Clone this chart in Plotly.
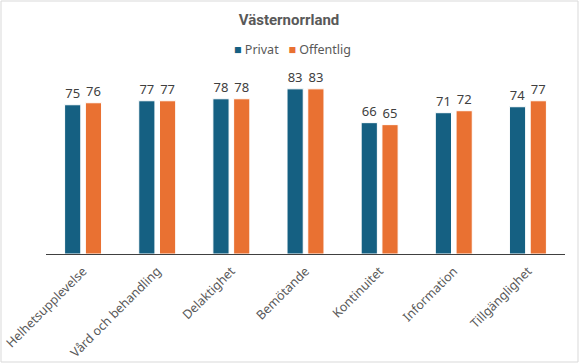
import plotly.graph_objects as go

categories = ["Helhetsupplevelse", "Vård och behandling", "Delaktighet", "Bemötande",
              "Kontinuitet", "Information", "Tillgänglighet"]
privat = [75, 77, 78, 83, 66, 71, 74]
offentlig = [76, 77, 78, 83, 65, 72, 77]
series_names = ["Privat", "Offentlig"]
colors = ["#156082", "#E97132"]

W, H = 580, 364
L, R, T, B = 46, 15, 55, 110
pw, ph = W - L - R, H - T - B

fig = go.Figure()
for name, vals, col in zip(series_names, [privat, offentlig], colors):
    fig.add_trace(go.Bar(
        x=categories, y=vals, name=name,
        marker=dict(color=col, line=dict(color="white", width=1)),
        text=[str(v) for v in vals], textposition="outside",
        textfont=dict(size=13, color="#404040", family="Noto Sans"),
        cliponaxis=False, showlegend=False,
    ))

legend_text = "&nbsp;&nbsp;&nbsp;".join(
    f'<span style="color:{c}">■</span> {n}' for n, c in zip(series_names, colors))

fig.update_layout(
    width=W, height=H,
    margin=dict(l=L, r=R, t=T, b=B, autoexpand=False),
    paper_bgcolor="white", plot_bgcolor="white",
    barmode="group", bargap=0.44, bargroupgap=0.22,
    font=dict(family="Noto Sans", color="#595959"),
    title=dict(text="<b>Västernorrland</b>", x=289 / W, xanchor="center",
               y=1 - 20 / H, yanchor="middle", yref="container", xref="container",
               font=dict(size=15, color="#595959", family="Roboto")),
    annotations=[dict(text=legend_text, xref="paper", yref="paper",
                      x=(292 - L) / pw, y=1 + (T - 49) / ph,
                      xanchor="center", yanchor="middle", showarrow=False,
                      font=dict(size=12.5, color="#595959", family="Noto Sans"))],
    xaxis=dict(tickangle=-45, tickfont=dict(size=12.5, color="#595959"),
               showline=True, linecolor="#404040", linewidth=1,
               ticks="", showgrid=False, automargin=False, ticklabelstandoff=4),
    yaxis=dict(range=[0, 100], visible=False, showgrid=False, automargin=False),
    shapes=[dict(type="rect", xref="paper", yref="paper",
                 x0=-(L - 1) / pw, x1=1 + (R - 2) / pw,
                 y0=-(B - 2) / ph, y1=1 + (T - 1) / ph,
                 line=dict(color="#D9D9D9", width=1), fillcolor="rgba(0,0,0,0)")],
)

fig.write_html("out.html", config={"displayModeBar": False},
               post_script="document.body.style.margin='0px';")
